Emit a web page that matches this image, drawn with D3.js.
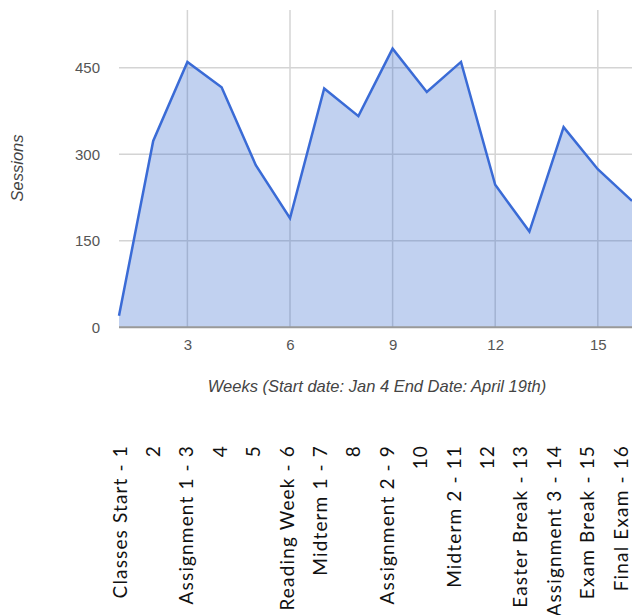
<!DOCTYPE html>
<html>
<head>
<meta charset="utf-8">
<script src="https://cdn.jsdelivr.net/npm/d3@7"></script>
<style>
  html, body { margin: 0; padding: 0; background: #fff; }
  svg { display: block; }
</style>
</head>
<body>
<svg id="chart" width="632" height="615"></svg>
<script>
// Weekly sessions over the term
const weeks = [1, 2, 3, 4, 5, 6, 7, 8, 9, 10, 11, 12, 13, 14, 15, 16];
const sessions = [20, 323, 460, 416, 281, 189, 414, 366, 483, 408, 460, 247, 166, 347, 274, 219];
const yTicks = [0, 150, 300, 450];
const xTicks = [3, 6, 9, 12, 15];
const weekNotes = [
  "Classes Start - 1", "2", "Assignment 1 - 3", "4", "5", "Reading Week - 6",
  "Midterm 1 - 7", "8", "Assignment 2 - 9", "10", "Midterm 2 - 11", "12",
  "Easter Break - 13", "Assignment 3 - 14", "Exam Break - 15", "Final Exam - 16"
];

const svg = d3.select("#chart");
const plot = { left: 119, right: 632, top: 10, bottom: 327.3 };

const x = d3.scaleLinear().domain([1, 16]).range([plot.left, plot.right]);
const y = d3.scaleLinear().domain([0, 550]).range([plot.bottom, plot.top]);

const axisFont = "'Liberation Sans', Arial, sans-serif";

// horizontal gridlines
svg.append("g")
  .selectAll("line")
  .data(yTicks.filter(d => d > 0))
  .join("line")
  .attr("x1", plot.left).attr("x2", plot.right)
  .attr("y1", d => y(d)).attr("y2", d => y(d))
  .attr("stroke", "#d4d4d4").attr("stroke-width", 1.5);

// vertical gridlines
svg.append("g")
  .selectAll("line")
  .data(xTicks)
  .join("line")
  .attr("x1", d => x(d)).attr("x2", d => x(d))
  .attr("y1", plot.top).attr("y2", plot.bottom)
  .attr("stroke", "#d4d4d4").attr("stroke-width", 1.5);

const pts = weeks.map((w, i) => [w, sessions[i]]);

// filled area
svg.append("path")
  .datum(pts)
  .attr("d", d3.area().x(d => x(d[0])).y0(y(0)).y1(d => y(d[1])))
  .attr("fill", "#3366cc")
  .attr("fill-opacity", 0.3);

// baseline
svg.append("line")
  .attr("x1", plot.left).attr("x2", plot.right)
  .attr("y1", y(0)).attr("y2", y(0))
  .attr("stroke", "#999").attr("stroke-width", 2);

// line
svg.append("path")
  .datum(pts)
  .attr("d", d3.line().x(d => x(d[0])).y(d => y(d[1])))
  .attr("fill", "none")
  .attr("stroke", "#3a6bd6")
  .attr("stroke-width", 2.5)
  .attr("stroke-linejoin", "miter");

// y axis labels
const yAxis = svg.append("g")
  .attr("transform", `translate(${plot.left - 19},0)`)
  .call(d3.axisLeft(y).tickValues(yTicks).tickSize(0).tickPadding(0));
yAxis.select(".domain").remove();
yAxis.selectAll("text")
  .attr("font-family", axisFont)
  .attr("font-size", 15)
  .attr("fill", "#555");

// x axis labels
const xAxis = svg.append("g")
  .attr("transform", `translate(0,${plot.bottom})`)
  .call(d3.axisBottom(x).tickValues(xTicks).tickSize(0).tickPadding(12));
xAxis.select(".domain").remove();
xAxis.selectAll("text")
  .attr("font-family", axisFont)
  .attr("font-size", 15)
  .attr("fill", "#555");

// axis titles
svg.append("text")
  .attr("transform", "translate(17,168) rotate(-90)")
  .attr("text-anchor", "middle")
  .attr("dominant-baseline", "central")
  .attr("font-family", axisFont)
  .attr("font-style", "italic")
  .attr("font-size", 16.5)
  .attr("fill", "#444")
  .text("Sessions");

svg.append("text")
  .attr("x", 377).attr("y", 386)
  .attr("text-anchor", "middle")
  .attr("dominant-baseline", "central")
  .attr("font-family", axisFont)
  .attr("font-style", "italic")
  .attr("font-size", 16.5)
  .attr("fill", "#444")
  .text("Weeks (Start date: Jan 4 End Date: April 19th)");

// week annotations below the chart
const noteX = d3.scalePoint().domain(weekNotes).range([119, 620]);
svg.append("g")
  .selectAll("text")
  .data(weekNotes)
  .join("text")
  .attr("transform", d => `translate(${noteX(d)},445) rotate(-90)`)
  .attr("text-anchor", "end")
  .attr("dominant-baseline", "central")
  .attr("font-family", "Lato, 'Open Sans', sans-serif")
  .attr("font-size", 19)
  .attr("letter-spacing", 1.15)
  .attr("fill", "#111")
  .text(d => d);
</script>
</body>
</html>
